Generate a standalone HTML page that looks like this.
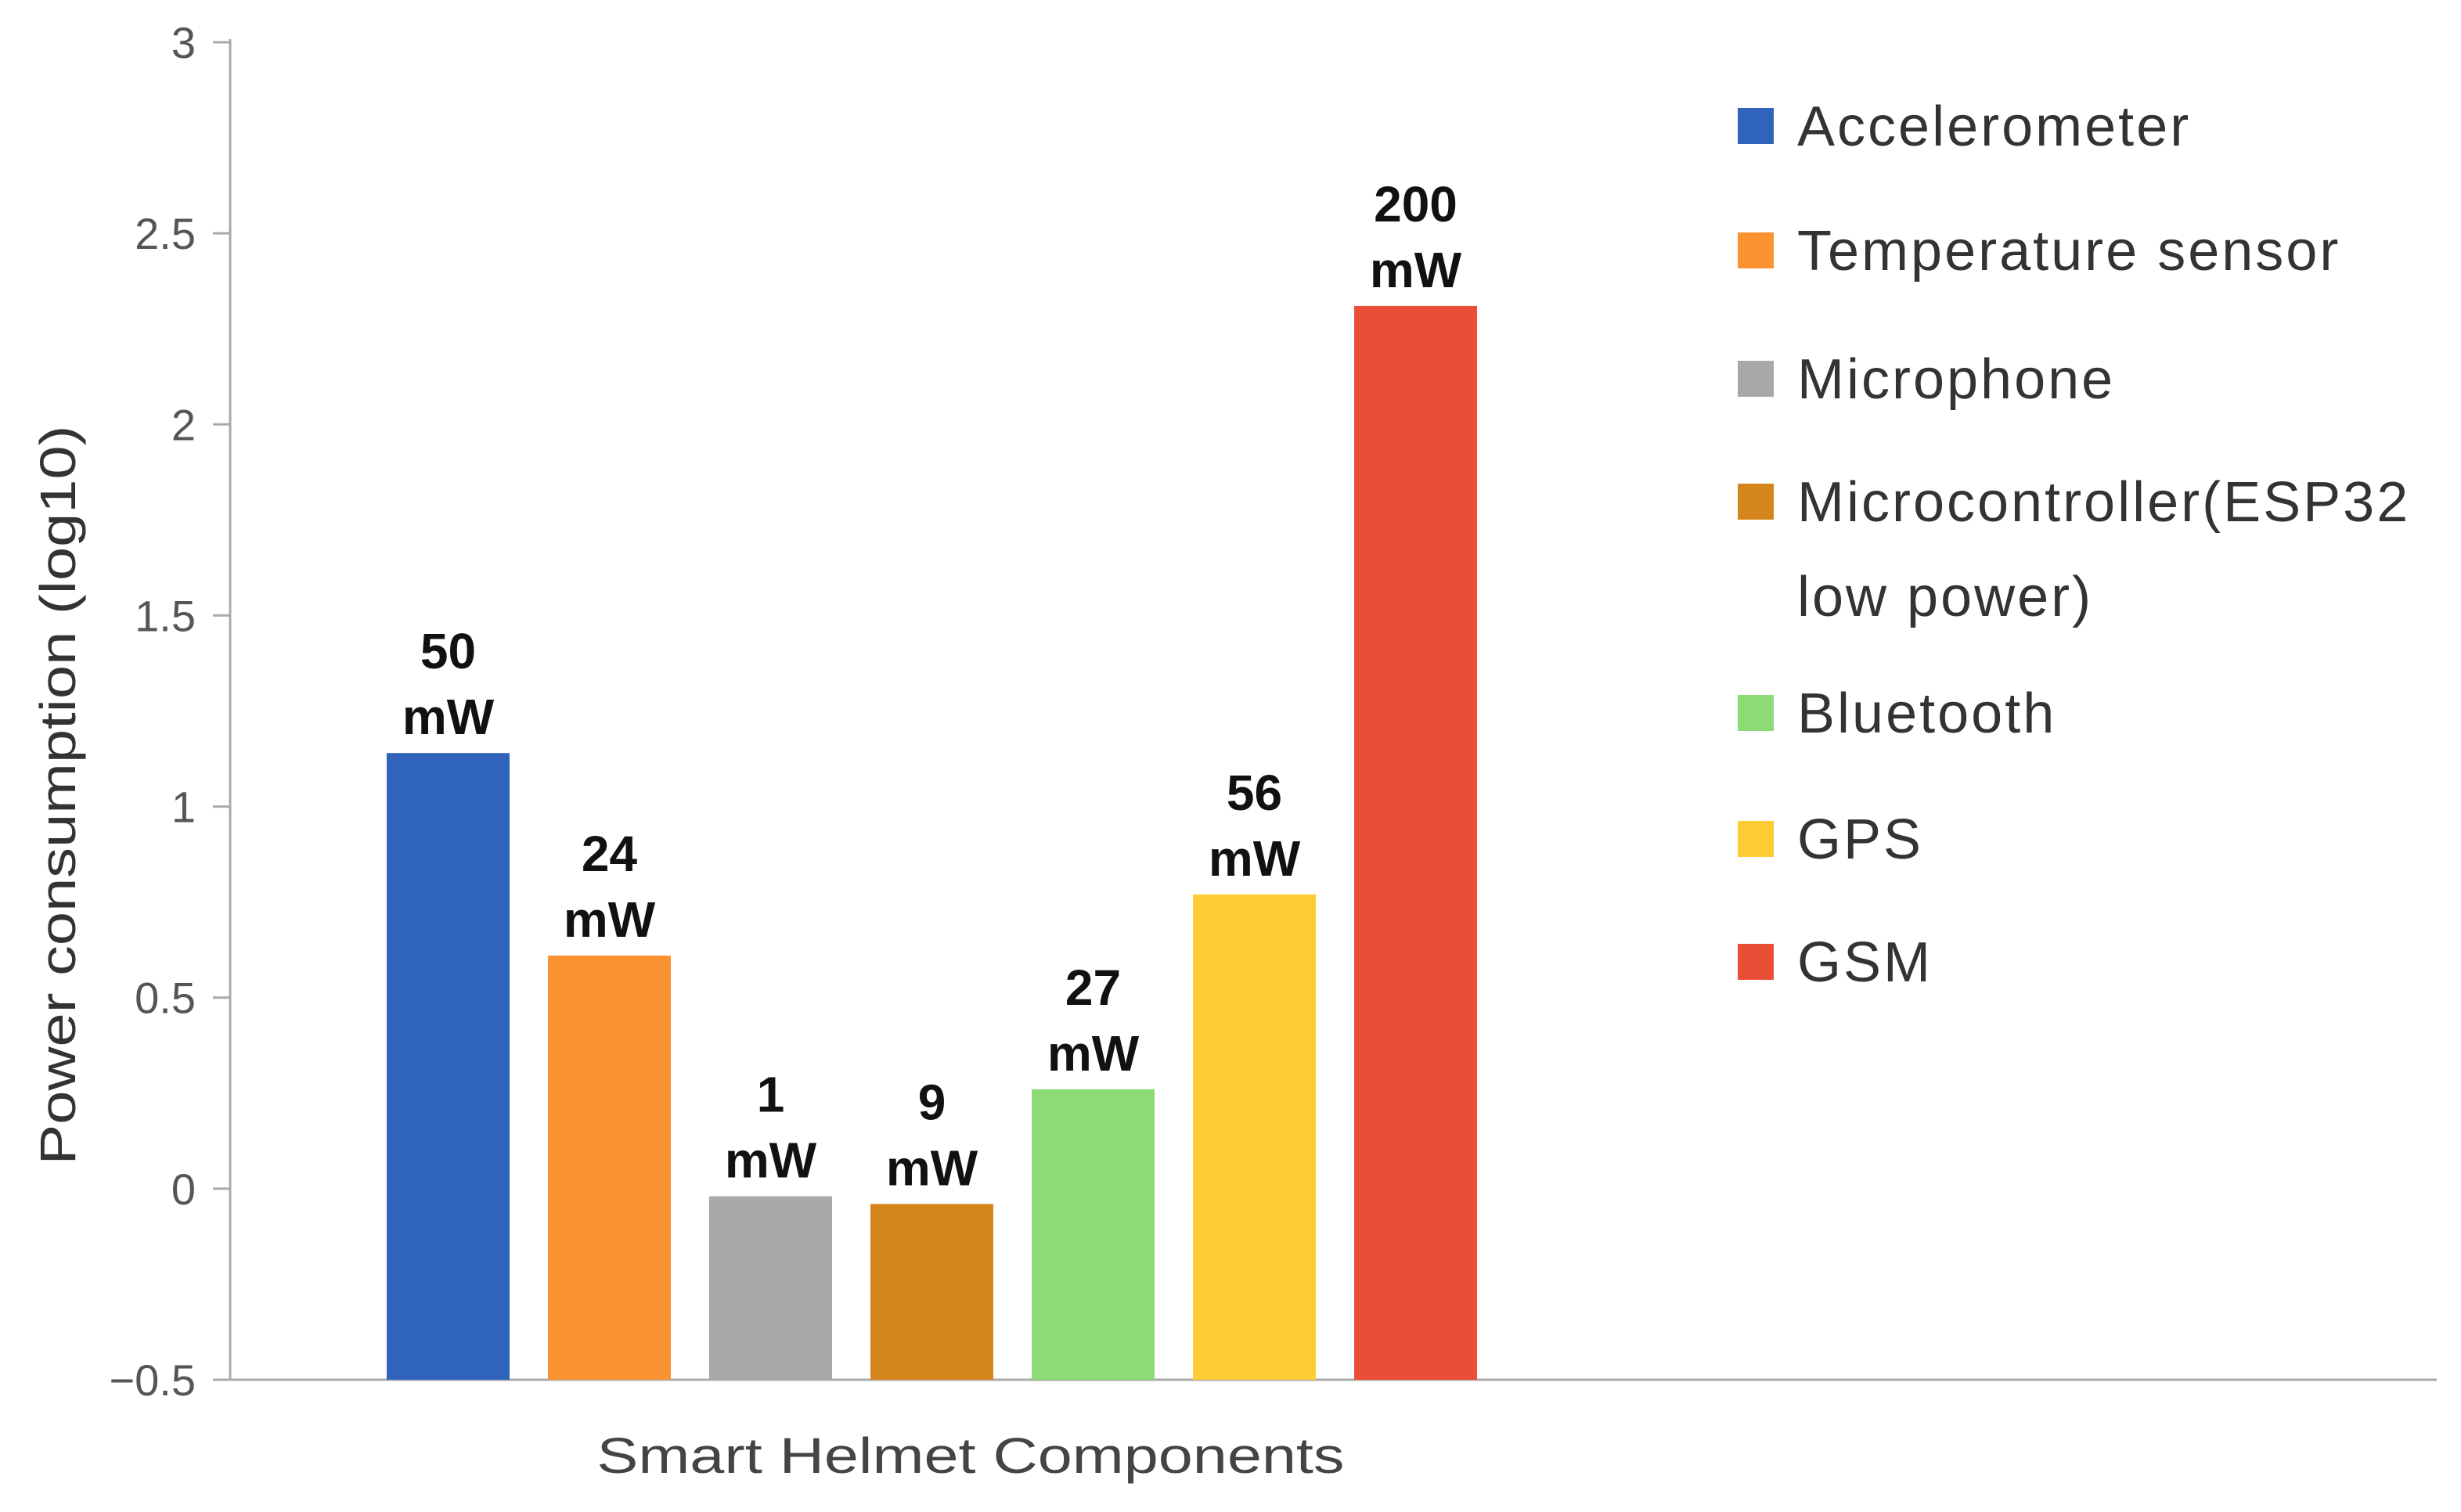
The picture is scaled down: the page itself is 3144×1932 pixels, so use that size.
<!DOCTYPE html>
<html><head><meta charset="utf-8"><style>
html,body{margin:0;padding:0;background:#fff;}
svg{display:block;}
</style></head><body>
<svg id="chart" width="3144" height="1932" xmlns="http://www.w3.org/2000/svg" font-family="'Liberation Sans', sans-serif">
<g id="axes"></g>
<g id="bars"></g>
<g id="labels"></g>
<g id="legend"></g>
<text transform="translate(96,1016) rotate(-90)" text-anchor="middle" font-size="64" fill="#333" textLength="945" lengthAdjust="spacingAndGlyphs">Power consumption (log10)</text>
<text x="1240" y="1882" text-anchor="middle" font-size="64" fill="#444" textLength="955" lengthAdjust="spacingAndGlyphs">Smart Helmet Components</text>
</svg>
<script>
const categories = ["Accelerometer","Temperature sensor","Microphone","Microcontroller(ESP32 low power)","Bluetooth","GPS","GSM"];
const values = [1.14, 0.61, -0.02, -0.04, 0.26, 0.77, 2.31];
const valueLabels = ["50","24","1","9","27","56","200"];
const colors = ["#3064bc","#fb9333","#a8a8a8","#d4861c","#8cdb74","#fdcc34","#eb4e36"];
const yTicks = [3, 2.5, 2, 1.5, 1, 0.5, 0, -0.5];
const yTickLabels = ["3","2.5","2","1.5","1","0.5","0","\u22120.5"];

const NS = "http://www.w3.org/2000/svg";
const yMin = -0.5, yMax = 3, pxTop = 54, pxBot = 1763;
function yScale(v){ return pxBot - (v - yMin) / (yMax - yMin) * (pxBot - pxTop); }
const barLeft0 = 494, barStep = 206, barW = 157;
function xBar(i){ return barLeft0 + i * barStep; }
function mk(tag, attrs, parent){ const e = document.createElementNS(NS, tag); for (const k in attrs) e.setAttribute(k, attrs[k]); parent.appendChild(e); return e; }

const axes = document.getElementById('axes');
const yAxis = mk('line', {x1:294, y1:pxTop-4, x2:294, y2:pxBot, stroke:'#aaa', 'stroke-width':3}, axes);


const xAxis = mk('line', {x1:272, y1:pxBot, x2:3113, y2:pxBot, stroke:'#aaa', 'stroke-width':3}, axes);


yTicks.forEach((t, i) => {
  const y = yScale(t);
  const tk = mk('line', {x1:272, y1:y, x2:294, y2:y, stroke:'#aaa', 'stroke-width':3}, axes);
  
  
  const tl = mk('text', {x:250, y:y+20, 'text-anchor':'end', 'font-size':56, fill:'#555'}, axes);
  
  
  tl.textContent = yTickLabels[i];
});

const bars = document.getElementById('bars');
const labels = document.getElementById('labels');
values.forEach((v, i) => {
  const x = xBar(i);
  const y = yScale(v);
  const b = mk('rect', {x:x, y:Math.min(y, pxBot), width:barW, height:Math.abs(pxBot - y), fill:colors[i]}, bars);
  
  
  const cx = x + barW / 2;
  const t1 = mk('text', {x:cx, y:y-108, 'text-anchor':'middle', 'font-size':64, 'font-weight':'bold', fill:'#111'}, labels);
  
  
  t1.textContent = valueLabels[i];
  const t2 = mk('text', {x:cx, y:y-24, 'text-anchor':'middle', 'font-size':64, 'font-weight':'bold', fill:'#111'}, labels);
  
  
  t2.textContent = 'mW';
});

const legend = document.getElementById('legend');
const legendRows = [[categories[0]],[categories[1]],[categories[2]],["Microcontroller(ESP32","low power)"],[categories[4]],[categories[5]],[categories[6]]];
const rowY = [161, 320, 484, 641, 911, 1072, 1229];
legendRows.forEach((lines, i) => {
  const y = rowY[i];
  const sw = mk('rect', {x:2220, y:y-23, width:46, height:46, fill:colors[i]}, legend);
  
  
  lines.forEach((ln, j) => {
    const t = mk('text', {x:2296, y:y+25 + j*121, 'font-size':72, 'letter-spacing':3, fill:'#333'}, legend);
    
    
    t.textContent = ln;
  });
});
</script>
</body></html>
